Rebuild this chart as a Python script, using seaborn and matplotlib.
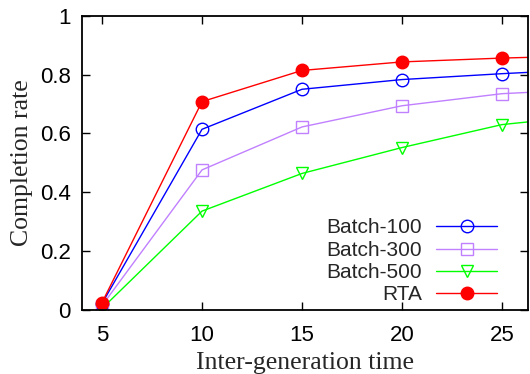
import matplotlib
matplotlib.use("Agg")
import matplotlib.pyplot as plt
import seaborn as sns
import pandas as pd

x_vals = [5, 10, 15, 20, 25, 30]
batch100 = [0.022, 0.614, 0.750, 0.783, 0.803, 0.820]
batch300 = [0.015, 0.476, 0.622, 0.694, 0.735, 0.752]
batch500 = [0.005, 0.336, 0.464, 0.552, 0.630, 0.665]
rta = [0.025, 0.708, 0.814, 0.843, 0.856, 0.865]
series_names = ["Batch-100", "Batch-300", "Batch-500", "RTA"]
x_ticks = [5, 10, 15, 20, 25]
y_ticks = [0, 0.2, 0.4, 0.6, 0.8, 1]
y_tick_labels = ["0", "0.2", "0.4", "0.6", "0.8", "1"]

sns.set_theme(style="ticks")
plt.rcParams["font.family"] = ["Liberation Sans", "DejaVu Sans"]

fig = plt.figure(figsize=(5.3, 3.74), dpi=100)
ax = fig.add_axes([82 / 530, 1 - 310 / 374, (528 - 82) / 530, (310 - 15.7) / 374])

styles = {
    "Batch-100": dict(color="#0000ff", marker="o", mfc="none"),
    "Batch-300": dict(color="#c080ff", marker="s", mfc="none"),
    "Batch-500": dict(color="#00ff00", marker="v", mfc="none"),
    "RTA": dict(color="#ff0000", marker="o", mfc="#ff0000"),
}
values = {"Batch-100": batch100, "Batch-300": batch300, "Batch-500": batch500, "RTA": rta}

for name in series_names:
    st = styles[name]
    df = pd.DataFrame({"x": x_vals, "y": values[name]})
    sns.lineplot(data=df, x="x", y="y", ax=ax, color=st["color"], marker=st["marker"],
                 markerfacecolor=st["mfc"], markeredgecolor=st["color"],
                 markersize=9, markeredgewidth=1.0, linewidth=1.0, label=name)

ax.set_xlim(4, 26.3)
ax.set_ylim(0, 1)
ax.set_xticks(x_ticks)
ax.set_yticks(y_ticks)
ax.set_yticklabels(y_tick_labels)
ax.tick_params(direction="in", length=6, width=1, top=True, right=True,
               labelsize=16, colors="black")
ax.tick_params(axis="x", pad=11)
ax.tick_params(axis="y", pad=8)
for sp in ax.spines.values():
    sp.set_linewidth(1.3)
    sp.set_color("black")

ax.set_xlabel("Inter-generation time", fontsize=18.5, family=["Liberation Serif"], labelpad=4)
ax.set_ylabel("Completion rate", fontsize=18.5, family=["Liberation Serif"], labelpad=5)

leg = ax.legend(loc="lower right", frameon=False, markerfirst=False, fontsize=15,
                handlelength=2.9, handletextpad=0.7, labelspacing=0.16,
                bbox_to_anchor=(0.972, -0.045))
for t in leg.get_texts():
    t.set_ha("right")

fig.savefig("out.png", dpi=100)
